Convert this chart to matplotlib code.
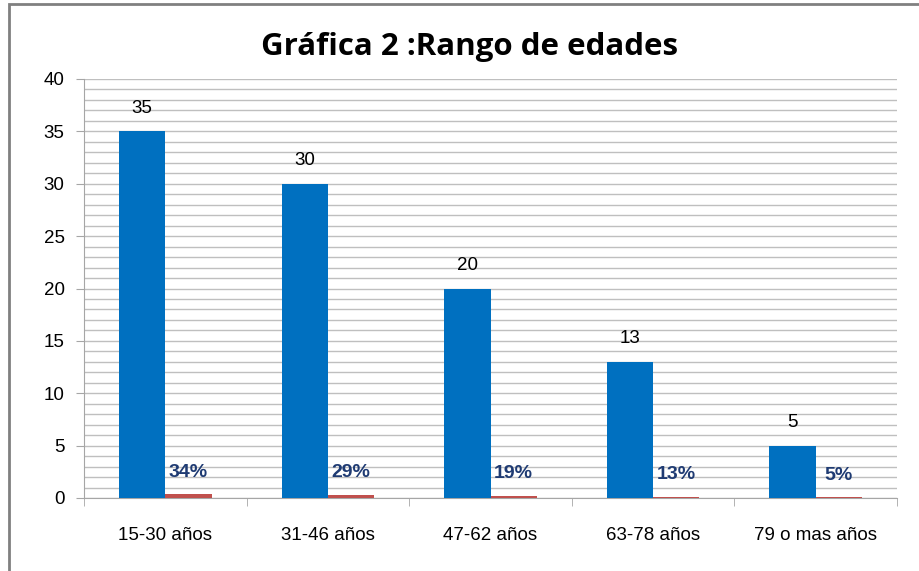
import numpy as np
import matplotlib.pyplot as plt
from matplotlib.patches import Rectangle

# datos
categorias = ['15-30 años', '31-46 años', '47-62 años', '63-78 años', '79 o mas años']
frecuencia = [35, 30, 20, 13, 5]
porcentaje = [0.34, 0.29, 0.19, 0.13, 0.05]
etiquetas_pct = ['34%', '29%', '19%', '13%', '5%']

azul = '#0070C0'
rojo = '#C0504D'
gris = '#A6A6A6'

fig = plt.figure(figsize=(9.19, 5.71), dpi=100)
ax = fig.add_axes([84 / 919, 73 / 571, 813 / 919, 419 / 571])

x = np.arange(len(categorias))
ancho = 0.285
ax.bar(x - ancho / 2, frecuencia, ancho, color=azul, zorder=3)
ax.bar(x + ancho / 2, porcentaje, ancho, color=rojo, zorder=3)

# etiquetas de valores
for xi, v in zip(x, frecuencia):
    ax.text(xi - ancho / 2, v + 1.4, str(v), ha='center', va='bottom',
            fontsize=13.5, family='Liberation Sans')
for xi, v, t in zip(x, porcentaje, etiquetas_pct):
    ax.text(xi + ancho / 2, v + 1.3, t, ha='center', va='bottom',
            fontsize=14, fontweight='bold', family='Liberation Sans', color='#1F3B73')

ax.set_xlim(-0.5, len(categorias) - 0.5)
ax.set_ylim(0, 40)
ax.set_yticks(range(0, 41, 5))
ax.set_yticks(range(0, 41, 1), minor=True)
ax.tick_params(axis='y', which='minor', length=0)
ax.tick_params(axis='y', which='major', length=6, color=gris, labelsize=13.5, pad=8)

# gridlines cada unidad
ax.grid(axis='y', which='both', color='#BFBFBF', linewidth=1, zorder=0)

ax.set_xticks(x)
ax.set_xticklabels(categorias, fontsize=13.5, family='Liberation Sans')
ax.tick_params(axis='x', which='major', length=0, pad=21)
ax.set_xticks(np.arange(-0.5, len(categorias), 1), minor=True)
ax.tick_params(axis='x', which='minor', length=6, color=gris, direction='out')

for lbl in ax.get_yticklabels():
    lbl.set_family('Liberation Sans')

for s in ['top', 'right']:
    ax.spines[s].set_visible(False)
for s in ['left', 'bottom']:
    ax.spines[s].set_color(gris)

fig.text(470 / 919, 1 - 47 / 571, 'Gráfica 2 :Rango de edades', ha='center', va='center',
         fontsize=22.5, fontweight='bold', family='Open Sans')

# borde del grafico
fig.patches.append(Rectangle((9 / 919, -0.1), 1.2, 1 - 4 / 571 + 0.1, transform=fig.transFigure,
                             fill=False, edgecolor='#808080', linewidth=2))

fig.savefig('out.png', dpi=100)
